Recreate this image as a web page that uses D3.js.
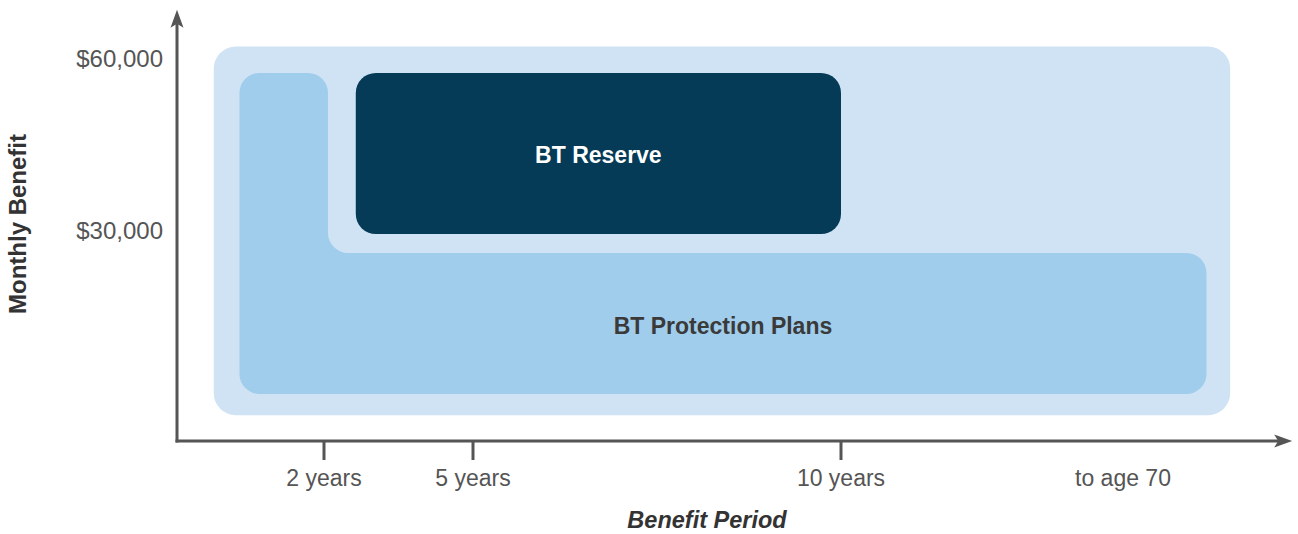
<!DOCTYPE html>
<html>
<head>
<meta charset="utf-8">
<script src="https://cdn.jsdelivr.net/npm/d3@7"></script>
<style>
  html, body { margin: 0; padding: 0; background: #fff; }
  svg { display: block; }
  text { font-family: "Liberation Sans", Arial, sans-serif; }
</style>
</head>
<body>
<svg id="chart" width="1298" height="534"></svg>
<script>
// ---- data ----
const periodLabels = ["2 years", "5 years", "10 years", "to age 70"];
const periodValues = [2, 5, 10, 35];           // x positions (years; "to age 70" nominal)
const periodTicks  = [true, true, true, false]; // which labels carry a tick mark
const benefitLabels = ["$60,000", "$30,000"];
const benefitValues = [60000, 30000];

// plan regions: [xStart, xEnd, yLow, yHigh]
const outerRegion   = [0.5, 44.5, -2300, 62000];
const protectionCol = [0.85, 2.08, 1400, 57400];     // short-period high benefit column
const protectionBand = [0.85, 42.4, 1400, 26000];    // long-period band
const reserveRegion = [2.64, 10.0, 29300, 57400];
const planNames = ["BT Protection Plans", "BT Reserve"];

// ---- scales ----
const x = d3.scaleLinear()
  .domain([0, 2, 5, 10, 35])
  .range([177, 324, 473, 841, 1123]);
const y = d3.scaleLinear().domain([0, 60000]).range([402, 58]);

const svg = d3.select("#chart");
const cLight = "#cfe3f4", cMid = "#a0cdeb", cDark = "#053b56", cAxis = "#555555";

// outer region
svg.append("rect")
  .attr("x", x(outerRegion[0])).attr("y", y(outerRegion[3]))
  .attr("width", x(outerRegion[1]) - x(outerRegion[0]))
  .attr("height", y(outerRegion[2]) - y(outerRegion[3]))
  .attr("rx", 22).attr("fill", cLight);

// L-shaped protection plans region
(function () {
  const r = 20, f = 20;
  const xl = x(protectionCol[0]), xc = x(protectionCol[1]), xr = x(protectionBand[1]);
  const yt = y(protectionCol[3]), yb = y(protectionBand[3]), ybot = y(protectionCol[2]);
  const p = d3.path();
  p.moveTo(xl + r, yt);
  p.lineTo(xc - r, yt);
  p.arcTo(xc, yt, xc, yt + r, r);
  p.lineTo(xc, yb - f);
  p.arcTo(xc, yb, xc + f, yb, f);
  p.lineTo(xr - r, yb);
  p.arcTo(xr, yb, xr, yb + r, r);
  p.lineTo(xr, ybot - r);
  p.arcTo(xr, ybot, xr - r, ybot, r);
  p.lineTo(xl + r, ybot);
  p.arcTo(xl, ybot, xl, ybot - r, r);
  p.lineTo(xl, yt + r);
  p.arcTo(xl, yt, xl + r, yt, r);
  p.closePath();
  svg.append("path").attr("d", p.toString()).attr("fill", cMid);
})();

// reserve region
svg.append("rect")
  .attr("x", x(reserveRegion[0])).attr("y", y(reserveRegion[3]))
  .attr("width", x(reserveRegion[1]) - x(reserveRegion[0]))
  .attr("height", y(reserveRegion[2]) - y(reserveRegion[3]))
  .attr("rx", 20).attr("fill", cDark);

// region labels
svg.append("text")
  .attr("x", (x(reserveRegion[0]) + x(reserveRegion[1])) / 2)
  .attr("y", y((reserveRegion[2] + reserveRegion[3]) / 2) + 2)
  .attr("text-anchor", "middle").attr("dominant-baseline", "central")
  .attr("font-size", 23).attr("font-weight", "bold").attr("fill", "#ffffff")
  .text(planNames[1]);
svg.append("text")
  .attr("x", 723)
  .attr("y", y((protectionBand[2] + protectionBand[3]) / 2) + 3)
  .attr("text-anchor", "middle").attr("dominant-baseline", "central")
  .attr("font-size", 23).attr("font-weight", "bold").attr("fill", "#3a3a3a")
  .text(planNames[0]);

// ---- axes ----
const axisY0 = y(-6800), axisTop = y(68400), axisX0 = x(0), axisRight = x(50);
svg.append("line").attr("x1", axisX0).attr("x2", axisX0)
  .attr("y1", axisY0 + 1.5).attr("y2", axisTop + 14)
  .attr("stroke", cAxis).attr("stroke-width", 3);
svg.append("path")
  .attr("d", `M${axisX0},${axisTop} L${axisX0 - 6.5},${axisTop + 18} L${axisX0},${axisTop + 14} L${axisX0 + 6.5},${axisTop + 18} Z`)
  .attr("fill", cAxis);
svg.append("line").attr("x1", axisX0 - 1.5).attr("x2", axisRight - 14)
  .attr("y1", axisY0).attr("y2", axisY0)
  .attr("stroke", cAxis).attr("stroke-width", 3);
svg.append("path")
  .attr("d", `M${axisRight},${axisY0} L${axisRight - 18},${axisY0 - 6.5} L${axisRight - 14},${axisY0} L${axisRight - 18},${axisY0 + 6.5} Z`)
  .attr("fill", cAxis);

// x ticks + labels
const xt = svg.append("g");
periodValues.forEach((v, i) => {
  if (periodTicks[i]) {
    xt.append("line").attr("x1", x(v)).attr("x2", x(v))
      .attr("y1", axisY0).attr("y2", axisY0 + 19)
      .attr("stroke", cAxis).attr("stroke-width", 3);
  }
  xt.append("text").attr("x", x(v)).attr("y", 486)
    .attr("text-anchor", "middle").attr("font-size", 23).attr("fill", "#555")
    .text(periodLabels[i]);
});

// y labels
benefitValues.forEach((v, i) => {
  svg.append("text").attr("x", 163).attr("y", y(v))
    .attr("text-anchor", "end").attr("dominant-baseline", "central")
    .attr("font-size", 24).attr("fill", "#555")
    .text(benefitLabels[i]);
});

// axis titles
svg.append("text")
  .attr("transform", "translate(26,224) rotate(-90)")
  .attr("text-anchor", "middle")
  .attr("font-size", 24).attr("font-weight", "bold").attr("fill", "#333")
  .text("Monthly Benefit");
svg.append("text")
  .attr("x", 707).attr("y", 528)
  .attr("text-anchor", "middle")
  .attr("font-size", 23.5).attr("font-weight", "bold").attr("font-style", "italic").attr("fill", "#333")
  .text("Benefit Period");
</script>
</body>
</html>
